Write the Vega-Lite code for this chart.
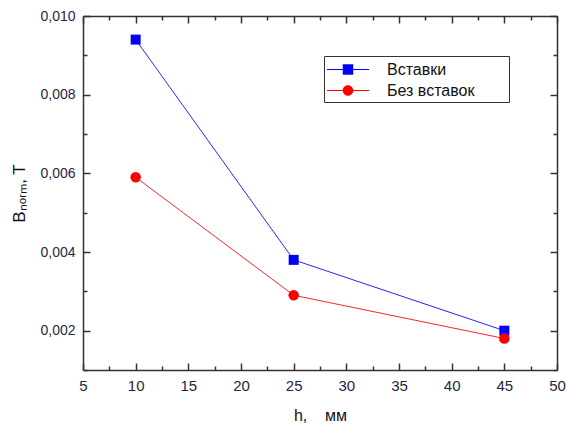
{
  "$schema": "https://vega.github.io/schema/vega-lite/v6.json",
  "width": 474,
  "height": 354,
  "autosize": {"type": "none"},
  "padding": {"left": 83, "top": 16, "right": 9, "bottom": 56},
  "background": "white",
  "config": {
    "view": {"stroke": null},
    "font": "Liberation Sans",
    "axis": {
      "domainColor": "#333333",
      "domainWidth": 1.5,
      "tickColor": "#333333",
      "tickWidth": 1.5,
      "grid": false,
      "labelFont": "Liberation Sans",
      "labelColor": "#1f2744",
      "titleFont": "Liberation Sans",
      "titleColor": "#111111",
      "titleFontWeight": "normal"
    }
  },
  "data": {
    "values": [
      {"h": 10, "B": 0.0094, "series": "Вставки"},
      {"h": 25, "B": 0.0038, "series": "Вставки"},
      {"h": 45, "B": 0.0020, "series": "Вставки"},
      {"h": 10, "B": 0.0059, "series": "Без вставок"},
      {"h": 25, "B": 0.0029, "series": "Без вставок"},
      {"h": 45, "B": 0.0018, "series": "Без вставок"}
    ]
  },
  "layer": [
    {
      "mark": {"type": "line", "strokeWidth": 1, "opacity": 0.85},
      "encoding": {
        "x": {
          "field": "h", "type": "quantitative",
          "scale": {"domain": [5, 50], "nice": false, "zero": false},
          "axis": {
            "orient": "bottom",
            "values": [5, 7.5, 10, 12.5, 15, 17.5, 20, 22.5, 25, 27.5, 30, 32.5, 35, 37.5, 40, 42.5, 45, 47.5, 50],
            "labelExpr": "datum.value % 5 == 0 ? datum.label : ''",
            "tickSize": {"condition": {"test": "datum.value % 5 == 0", "value": -7}, "value": -4},
            "labelPadding": 15,
            "labelFontSize": 15,
            "labelFlush": false,
            "labelOverlap": false,
            "title": "h,\u00a0\u00a0\u00a0\u00a0мм",
            "titleFontSize": 16,
            "titlePadding": 11
          }
        },
        "y": {
          "field": "B", "type": "quantitative",
          "scale": {"domain": [0.001, 0.010], "nice": false, "zero": false},
          "axis": {
            "orient": "left",
            "values": [0.001, 0.002, 0.003, 0.004, 0.005, 0.006, 0.007, 0.008, 0.009, 0.010],
            "labelExpr": "round(datum.value*1000) % 2 == 0 ? replace(format(datum.value, '.3f'), '.', ',') : ''",
            "tickSize": {"condition": {"test": "round(datum.value*1000) % 2 == 0", "value": -7}, "value": -4},
            "labelPadding": 15,
            "labelFontSize": 14,
            "labelFlush": false,
            "labelOverlap": false,
            "title": "Bₙₒᵣₘ, T",
            "titleFontSize": 17,
            "titlePadding": 11
          }
        },
        "color": {
          "field": "series", "type": "nominal",
          "scale": {"domain": ["Вставки", "Без вставок"], "range": ["#0000ff", "#ff0000"]},
          "legend": {
            "title": null,
            "orient": "none",
            "legendX": 241,
            "legendY": 40,
            "direction": "vertical",
            "padding": 3,
            "strokeColor": "#333333",
            "fillColor": "white",
            "symbolType": "square",
            "symbolSize": 441,
            "symbolStrokeWidth": 0,
            "symbolOpacity": 1,
            "labelOffset": 39,
            "labelFontSize": 16,
            "labelColor": "#111111",
            "labelFont": "Liberation Sans",
            "labelLimit": 400,
            "rowPadding": 2,
            "labelExpr": "datum.label + '\u00a0\u00a0\u00a0\u00a0\u00a0\u00a0\u00a0\u200b'",
            "encode": {
              "symbols": {
                "update": {
                  "shape": {"signal": "datum.value == 'Вставки' ? 'M-1,-0.05H3V0.05H-1Z M0.5,-0.5H1.5V0.5H0.5Z' : 'M-1,-0.05H3V0.05H-1Z M1.5,0 A0.5,0.5 0 1,1 0.5,0 A0.5,0.5 0 1,1 1.5,0Z'"},
                  "size": {"value": 441},
                  "fill": {"signal": "datum.value == 'Вставки' ? '#0000ff' : '#ff0000'"},
                  "stroke": {"value": "transparent"},
                  "strokeWidth": {"value": 0},
                  "opacity": {"value": 1}
                }
              }
            }
          }
        }
      }
    },
    {
      "transform": [{"filter": "datum.series == 'Вставки'"}],
      "mark": {"type": "point", "filled": true, "opacity": 1, "shape": "square", "color": "#0000ff", "size": 100},
      "encoding": {
        "x": {
          "field": "h", "type": "quantitative",
          "axis": {
            "orient": "top",
            "values": [5, 7.5, 10, 12.5, 15, 17.5, 20, 22.5, 25, 27.5, 30, 32.5, 35, 37.5, 40, 42.5, 45, 47.5, 50],
            "labels": false,
            "tickSize": {"condition": {"test": "datum.value % 5 == 0", "value": -7}, "value": -4},
            "title": null
          }
        },
        "y": {
          "field": "B", "type": "quantitative",
          "axis": {
            "orient": "right",
            "values": [0.001, 0.002, 0.003, 0.004, 0.005, 0.006, 0.007, 0.008, 0.009, 0.010],
            "labels": false,
            "tickSize": {"condition": {"test": "round(datum.value*1000) % 2 == 0", "value": -7}, "value": -4},
            "title": null
          }
        }
      }
    },
    {
      "transform": [{"filter": "datum.series == 'Без вставок'"}],
      "mark": {"type": "point", "filled": true, "opacity": 1, "shape": "circle", "color": "#ff0000", "size": 110},
      "encoding": {
        "x": {"field": "h", "type": "quantitative", "axis": null},
        "y": {"field": "B", "type": "quantitative", "axis": null}
      }
    }
  ],
  "resolve": {"axis": {"x": "independent", "y": "independent"}}
}
